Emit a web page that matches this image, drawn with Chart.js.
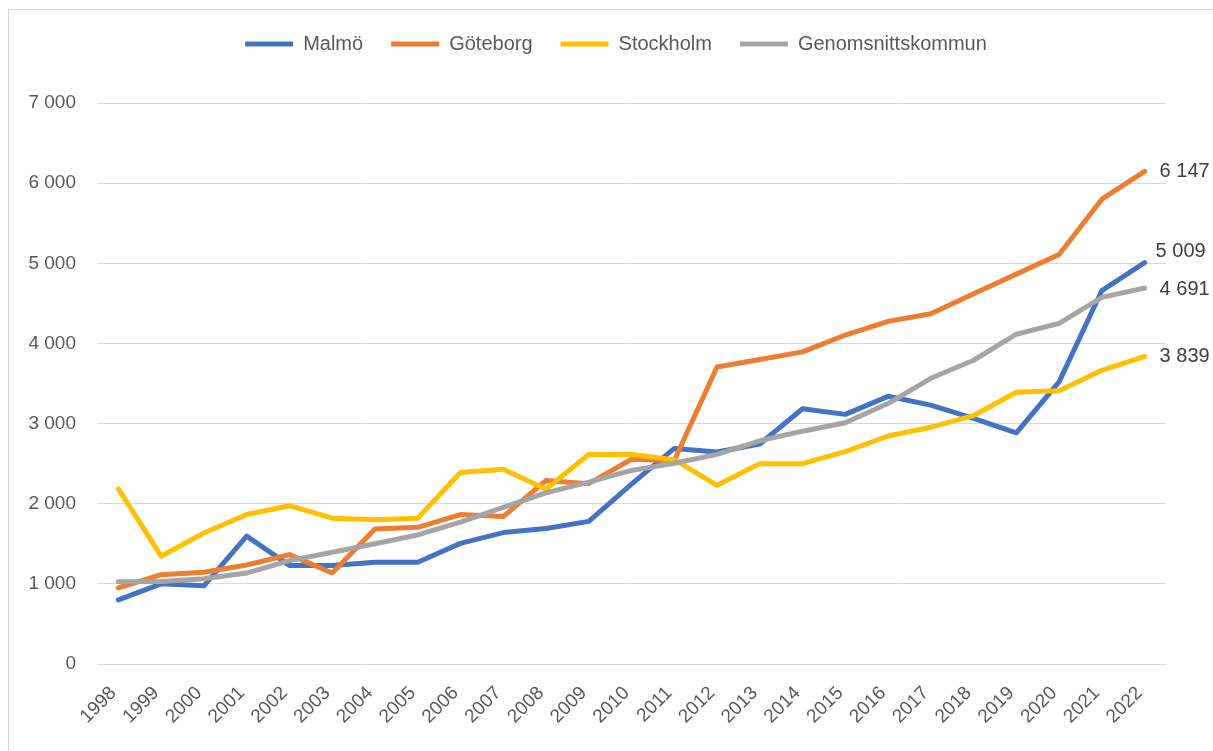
<!DOCTYPE html>
<html>
<head>
<meta charset="utf-8">
<script src="https://cdn.jsdelivr.net/npm/chart.js@4/dist/chart.umd.min.js"></script>
<style>
    html, body { margin: 0; padding: 0; background: #ffffff; overflow: hidden; }
    #frame { position: absolute; left: 8px; top: 9px; width: 1300px; height: 800px; border: 1px solid #d9d9d9; }
    #wrap { position: absolute; left: 0; top: 0; width: 1213px; height: 751px; }
</style>
</head>
<body>
<div id="frame"></div>
<div id="wrap"><canvas id="chart" width="1213" height="751"></canvas></div>
<script>
(function (window, document) {
    'use strict';

    var years = ['1998', '1999', '2000', '2001', '2002', '2003', '2004', '2005', '2006', '2007', '2008', '2009',
        '2010', '2011', '2012', '2013', '2014', '2015', '2016', '2017', '2018', '2019', '2020', '2021', '2022'];

    var malmo = [800, 1000, 975, 1595, 1230, 1230, 1270, 1270, 1505, 1640, 1690, 1780,
        2245, 2690, 2645, 2745, 3185, 3115, 3340, 3230, 3065, 2885, 3520, 4660, 5009];
    var goteborg = [950, 1115, 1145, 1235, 1365, 1135, 1685, 1705, 1865, 1840, 2290, 2250,
        2555, 2540, 3705, 3800, 3895, 4105, 4275, 4370, 4620, 4865, 5110, 5800, 6147];
    var stockholm = [2185, 1345, 1635, 1865, 1975, 1820, 1800, 1820, 2390, 2430, 2180, 2615,
        2615, 2550, 2230, 2500, 2500, 2650, 2845, 2955, 3100, 3390, 3410, 3665, 3839];
    var snitt = [1025, 1030, 1065, 1135, 1290, 1395, 1500, 1610, 1770, 1955, 2135, 2270,
        2415, 2505, 2615, 2785, 2905, 3010, 3250, 3565, 3790, 4115, 4250, 4575, 4691];

    var seriesNames = ['Malmö', 'Göteborg', 'Stockholm', 'Genomsnittskommun'];
    var seriesColors = ['#4472C4', '#ED7D31', '#FFC000', '#A5A5A5'];
    var yTicks = [0, 1000, 2000, 3000, 4000, 5000, 6000, 7000];

    var FONT = '"Liberation Sans", Arial, sans-serif';

    function formatThousands(value) {
        var s = String(Math.round(value));
        return s.replace(/\B(?=(\d{3})+(?!\d))/g, ' ');
    }

    // end-of-line value labels, nudged so they don't collide
    var labelNudge = [-11, 0, 0, 1];
    var labelShift = [11, 15, 15, 15];

    var endLabels = {
        id: 'endLabels',
        afterDatasetsDraw: function (chart) {
            var ctx = chart.ctx;
            ctx.save();
            ctx.font = '20px ' + FONT;
            ctx.fillStyle = '#404040';
            ctx.textAlign = 'left';
            ctx.textBaseline = 'middle';
            chart.data.datasets.forEach(function (ds, i) {
                var meta = chart.getDatasetMeta(i);
                var pt = meta.data[meta.data.length - 1];
                if (!pt) {
                    return;
                }
                ctx.fillText(formatThousands(ds.data[ds.data.length - 1]), pt.x + labelShift[i], pt.y + labelNudge[i]);
            });
            ctx.restore();
        }
    };

    // fixed legend height, and centre the legend over the whole canvas
    var legendBox = {
        id: 'legendBox',
        beforeLayout: function (chart) {
            var legend = chart.legend;
            if (legend && !legend._fitWrapped) {
                var fit = legend.fit;
                legend.fit = function () {
                    fit.call(this);
                    this.height = 97;
                };
                legend._fitWrapped = true;
            }
        },
        afterLayout: function (chart) {
            if (chart.legend) {
                chart.legend.left = 33;
                chart.legend.right = 1199;
            }
        }
    };

    var datasets = [malmo, goteborg, stockholm, snitt].map(function (values, i) {
        return {
            label: seriesNames[i],
            data: values,
            borderColor: seriesColors[i],
            backgroundColor: seriesColors[i],
            borderWidth: 5,
            borderCapStyle: 'round',
            borderJoinStyle: 'round',
            pointRadius: 0,
            tension: 0,
            order: 4 - i
        };
    });

    new Chart(document.getElementById('chart'), {
        type: 'line',
        data: { labels: years, datasets: datasets },
        plugins: [endLabels, legendBox],
        options: {
            responsive: false,
            animation: false,
            layout: { padding: { top: 6, right: 47, bottom: 0, left: 0 } },
            plugins: {
                legend: {
                    display: true,
                    position: 'top',
                    labels: {
                        font: { family: FONT, size: 20 },
                        color: '#595959',
                        boxWidth: 48,
                        boxHeight: 5,
                        padding: 28,
                        sort: function (a, b) { return a.datasetIndex - b.datasetIndex; },
                        generateLabels: function (chart) {
                            var items = Chart.defaults.plugins.legend.labels.generateLabels(chart);
                            items.forEach(function (it) {
                                it.lineWidth = 0;
                                it.fillStyle = seriesColors[it.datasetIndex];
                            });
                            return items;
                        }
                    }
                },
                tooltip: { enabled: false }
            },
            scales: {
                x: {
                    offset: true,
                    grid: { display: false, drawTicks: false },
                    border: { display: true, color: '#d9d9d9', width: 1 },
                    ticks: {
                        font: { family: FONT, size: 19 },
                        color: '#595959',
                        minRotation: 45,
                        maxRotation: 45,
                        autoSkip: false,
                        padding: 18,
                        labelOffset: -5
                    },
                    afterFit: function (scale) { scale.height = 87; }
                },
                y: {
                    min: 0,
                    max: 7000,
                    afterBuildTicks: function (scale) {
                        scale.ticks = yTicks.map(function (v) { return { value: v }; });
                    },
                    grid: { color: '#d9d9d9', lineWidth: 1, drawTicks: false },
                    border: { display: false },
                    ticks: {
                        font: { family: FONT, size: 19 },
                        color: '#595959',
                        padding: 21,
                        callback: function (value) { return formatThousands(value); }
                    },
                    afterFit: function (scale) { scale.width = 97; }
                }
            }
        }
    });
})(window, document);
</script>
</body>
</html>
